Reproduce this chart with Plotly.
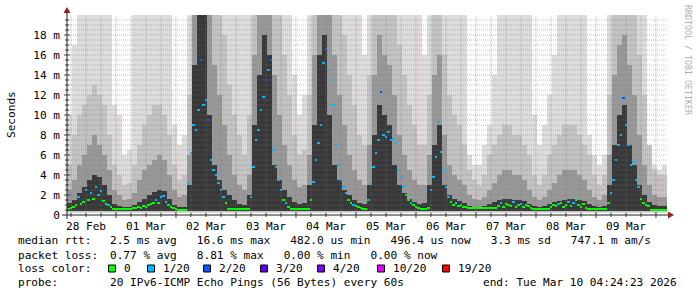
import plotly.graph_objects as go
import pandas as pd

# ---------------- data ----------------
start = pd.Timestamp("2026-02-28 04:24:23")
end = pd.Timestamp("2026-03-10 04:24:23")

day_labels = ["28 Feb", "01 Mar", "02 Mar", "03 Mar", "04 Mar",
              "05 Mar", "06 Mar", "07 Mar", "08 Mar", "09 Mar"]
day_noons = ["2026-02-28 12:00", "2026-03-01 12:00", "2026-03-02 12:00",
             "2026-03-03 12:00", "2026-03-04 12:00", "2026-03-05 12:00",
             "2026-03-06 12:00", "2026-03-07 12:00", "2026-03-08 12:00",
             "2026-03-09 12:00"]

y_tick_vals = [0, 2, 4, 6, 8, 10, 12, 14, 16, 18]
y_tick_text = ["0", "2 m", "4 m", "6 m", "8 m", "10 m", "12 m", "14 m", "16 m", "18 m"]

# hourly median RTT (ms)
median_ms = [
    0.6, 0.7, 0.8,
    1.0, 1.8, 1.1, 1.3,
    2.5, 1.5, 2.2, 1.6, 2.8, 2.0, 2.4, 1.4,
    1.1, 1.0, 0.8,
    0.6, 0.6, 0.6, 0.6, 0.6, 0.6, 0.6, 0.6,
    0.7, 0.7, 0.8, 0.75, 0.9, 0.8,
    1.0, 1.1, 1.2, 1.5, 1.2, 1.8, 1.9, 1.3,
    1.0, 0.8, 0.7, 0.6,
    0.5, 0.5, 0.5, 0.55,
    3.2, 6.2,
    9.0, 8.5, 10.5,
    15.5, 11.0,
    11.5, 9.5,
    5.5, 4.5,
    4.0, 3.2, 2.5,
    1.8, 1.2,
    0.6, 0.6, 0.6, 0.6, 0.6, 0.6, 0.6, 0.6, 0.6,
    1.8, 4.8,
    7.5, 8.5, 10.5,
    11.8, 13.5, 14.5,
    15.5,
    6.5, 4.8, 3.5, 2.5,
    1.5, 1.2, 0.8,
    0.6, 0.6, 0.6, 0.6, 0.6, 0.6, 0.6, 0.6,
    1.5, 3.3, 5.5,
    7.2, 9.0,
    15.2, 16.6, 14.5, 13.5,
    11.0, 7.0, 5.0,
    3.5, 2.8, 2.2, 1.5,
    1.2, 1.0, 0.9, 0.8, 0.7,
    0.6, 0.6,
    1.5, 3.2, 4.8, 6.2, 7.5, 12.3,
    8.0, 7.8, 8.3, 7.5, 7.6, 7.2,
    4.5, 3.8, 2.8, 2.0,
    1.5, 1.2, 1.0, 0.8, 0.7, 0.6, 0.6, 0.6,
    0.7, 2.5, 3.8, 5.8,
    9.3, 6.3,
    4.5, 2.8,
    1.8, 1.3, 1.0, 1.2, 0.9, 1.0, 0.8, 0.8, 0.7,
    0.7, 0.7, 0.7, 0.7, 0.7, 0.7, 0.7, 0.7, 0.7, 0.7, 0.7,
    0.9, 1.2, 0.8, 1.1, 1.0, 0.9, 1.3, 0.8, 1.0, 1.1, 0.8, 1.0, 0.9, 0.7,
    0.6, 0.6, 0.6, 0.6, 0.6, 0.6, 0.6,
    0.8, 1.0, 0.9, 1.1, 1.2, 0.8, 1.0, 1.3, 0.9, 1.2, 1.5, 1.0, 0.8, 1.1, 0.7,
    0.6, 0.6, 0.6, 0.6, 0.6, 0.6, 0.6, 0.6,
    1.2, 2.2,
    3.5, 5.5,
    7.0, 8.0,
    11.7, 9.0,
    7.0, 5.0,
    5.3, 3.5,
    2.8, 1.6,
    1.2, 1.0, 0.9,
    0.55, 0.55, 0.55, 0.55, 0.55, 0.55, 0.55,
]

# hourly packet loss (out of 20)
loss_20 = [
    0, 0, 0,
    0, 1, 0, 0,
    1, 0, 1, 0, 1, 1, 1, 0,
    0, 1, 0,
    0, 0, 0, 0, 0, 0, 0, 0,
    0, 0, 0, 0, 0, 0,
    0, 0, 0, 1, 0, 1, 1, 1,
    0, 0, 0, 0,
    0, 0, 0, 0,
    1, 1,
    1, 1, 1,
    2, 1,
    1, 2,
    1, 1,
    1, 1, 1,
    1, 0,
    0, 0, 0, 0, 0, 0, 0, 0, 0,
    1, 1,
    1, 1, 1,
    1, 2, 1,
    2,
    1, 1, 1, 1,
    0, 1, 0,
    0, 0, 0, 0, 0, 0, 0, 0,
    0, 1, 1,
    1, 1,
    1, 2, 1, 1,
    1, 1, 1,
    1, 1, 1, 0,
    0, 1, 0, 0, 0,
    0, 0,
    1, 1, 1, 1, 1, 2,
    1, 1, 1, 1, 1, 1,
    1, 1, 1, 0,
    0, 1, 0, 0, 0, 0, 0, 0,
    0, 1, 1, 1,
    1, 1,
    1, 1,
    1, 0, 0, 1, 0, 0, 0, 0, 0,
    0, 0, 0, 0, 0, 0, 0, 0, 0, 0, 0,
    0, 1, 0, 0, 0, 0, 1, 0, 0, 1, 0, 0, 0, 0,
    0, 0, 0, 0, 0, 0, 0,
    0, 0, 0, 1, 0, 0, 0, 1, 0, 1, 0, 0, 0, 0, 0,
    0, 0, 0, 0, 0, 0, 0, 0,
    0, 1,
    1, 1,
    1, 1,
    2, 1,
    1, 1,
    1, 1,
    1, 0,
    0, 0, 0,
    0, 0, 0, 0, 0, 0, 0,
]

# smoke envelope (2-hour steps, ms): upper edge of each grey band
smoke_top1 = [10, 17, 20, 20, 20, 20, 20, 20, 20, 11,
              10, 6, 6.5, 20, 20, 20, 20, 20, 20, 20,
              20, 9, 7, 8, 20, 20, 20, 20, 20, 20,
              20, 20, 20, 20, 20, 20, 20, 20, 20, 20,
              20, 20, 20, 20, 20, 14, 10, 12, 20, 20,
              20, 20, 20, 20, 20, 20, 20, 20, 20, 16,
              20, 20, 20, 20, 20, 20, 20, 20, 20, 20,
              20, 16, 20, 20, 20, 20, 20, 20, 20, 20,
              6, 5, 5, 7, 9, 14, 20, 20, 20, 20,
              20, 20, 20, 10, 7, 9, 12, 16, 20, 20,
              20, 20, 20, 20, 8, 6, 5, 6, 20, 20,
              20, 20, 20, 20, 20, 20, 6, 5, 4.5, 5]
smoke_top2 = [5, 8, 10, 11, 12, 13, 12, 11, 8, 5,
              4, 3, 3.2, 5, 7, 9, 10, 11, 11, 10,
              8, 5, 3.5, 4, 12, 20, 20, 20, 20, 20,
              20, 18, 13, 10, 8, 6, 10, 20, 20, 20,
              20, 20, 20, 16, 12, 8, 6, 6.5, 12, 20,
              20, 20, 20, 20, 20, 18, 14, 11, 8, 7,
              14, 20, 20, 20, 20, 20, 17, 14, 11, 9,
              7, 7, 12, 20, 20, 16, 12, 10, 9, 7,
              4.5, 3.5, 3, 4, 6, 7, 8, 9, 9, 8,
              8, 7, 6, 4, 3, 4, 6, 7, 8, 9,
              9, 9, 8, 7, 6, 4, 3, 4, 12, 20,
              20, 20, 20, 20, 16, 12, 7, 4.5, 4, 4]
smoke_top3 = [2.5, 3.5, 5, 6, 7, 8, 7, 6, 4.5, 2.5,
              2, 1.5, 1.6, 2.2, 3.5, 4.5, 5, 5.5, 6, 5.5,
              4, 2.5, 1.8, 2, 6, 20, 20, 20, 20, 15,
              12, 9, 6, 4, 3, 2.5, 4, 16, 20, 20,
              20, 14, 10, 7, 5, 3.5, 2.8, 3, 6, 16,
              20, 20, 20, 16, 12, 9, 6, 4.5, 3.5, 3,
              7, 14, 18, 16, 15, 12, 8, 6, 4.5, 3.5,
              3, 3, 6, 14, 16, 8, 5, 4, 3.5, 3,
              2, 1.6, 1.5, 1.8, 2.5, 3.2, 4, 4.5, 4.5, 4,
              4, 3.5, 2.5, 1.8, 1.5, 1.8, 2.5, 3.2, 4, 4.5,
              4.5, 4.5, 4, 3.5, 2.5, 1.8, 1.5, 2, 6, 14,
              17, 18, 15, 12, 8, 5, 3, 2, 1.8, 1.8]
smoke_top4 = [1.2, 1.5, 2.2, 2.8, 3.5, 4, 3.8, 3, 2, 1.1,
              0.9, 0.8, 0.8, 1.0, 1.3, 1.6, 2, 2.3, 2.5, 2.4,
              1.6, 1.0, 0.8, 0.8, 3, 15, 20, 20, 10, 5,
              3.5, 2.5, 2.0, 1.5, 1.1, 1, 2, 9, 14, 18,
              16, 5, 3.5, 2.5, 1.8, 1.3, 1.1, 1.2, 3, 9,
              16, 18, 10, 5, 3.5, 2.5, 2, 1.5, 1.2, 1.1,
              3, 8, 11, 10, 9, 5, 3, 2.2, 1.6, 1.3,
              1.1, 1.2, 3, 7, 9, 3, 2, 1.6, 1.4, 1.2,
              0.9, 0.8, 0.8, 0.9, 1.1, 1.3, 1.5, 1.6, 1.6, 1.5,
              1.5, 1.4, 1.1, 0.9, 0.8, 0.9, 1.1, 1.3, 1.4, 1.5,
              1.6, 1.6, 1.5, 1.4, 1.1, 0.9, 0.8, 0.9, 3, 7,
              10, 11, 7, 5, 3, 2, 1.3, 1, 0.9, 0.9]
smoke_floor = [0.25, 0.35, 0.4, 0.45]  # lower edge of each grey band (ms)

loss_levels = ["0", "1/20", "2/20", "3/20", "4/20", "10/20", "19/20"]
loss_colors = ["#00ff00", "#00b8ff", "#0059ff", "#5e00ff", "#7e00ff", "#dd00ff", "#ff0000"]

stats_rtt = ["2.5 ms avg", "16.6 ms max", "482.0 us min", "496.4 us now", "3.3 ms sd", "747.1 m am/s"]
stats_loss = ["0.77 % avg", "8.81 % max", "0.00 % min", "0.00 % now"]
probe_text = "20 IPv6-ICMP Echo Pings (56 Bytes) every 60s"
end_text = "end: Tue Mar 10 04:24:23 2026"

# ---------------- layout helpers ----------------
W, H = 697, 297
L, R, T, B = 67, 30, 15, 82
PW, PH = W - L - R, H - T - B
MONO = "DejaVu Sans Mono"


def px(x):
    return (x - L) / PW


def py(y):
    return (T + PH - y) / PH


fig = go.Figure()

# ---------------- smoke ----------------
smoke_x = [start + pd.Timedelta(hours=2 * k + 1) for k in range(len(smoke_top1))]
band_colors = ["#dcdcdc", "#c3c3c3", "#989898", "#383838"]
for tops, floor, col in zip([smoke_top1, smoke_top2, smoke_top3, smoke_top4],
                            smoke_floor, band_colors):
    fig.add_trace(go.Bar(
        x=smoke_x, y=[t - floor for t in tops], base=[floor] * len(tops),
        width=2 * 3600 * 1000, marker=dict(color=col, line=dict(width=0)),
        hoverinfo="skip", showlegend=False))

# ---------------- median ----------------
med_x = [start + pd.Timedelta(minutes=60 * j + 30) for j in range(len(median_ms))]
fig.add_trace(go.Bar(
    x=med_x, y=[0.2] * len(median_ms), base=[m - 0.1 for m in median_ms],
    width=3600 * 1000,
    marker=dict(color=[loss_colors[min(v, 2)] for v in loss_20], line=dict(width=0)),
    hoverinfo="skip", showlegend=False))

shapes = []
# ---------------- grid (above the smoke) ----------------
t = pd.Timestamp("2026-02-28 06:00")
while t < end:
    major = t.hour == 0
    shapes.append(dict(type="line", xref="x", yref="paper", x0=t, x1=t, y0=0, y1=1,
                       line=dict(color="rgba(230,60,60,0.45)" if major else "rgba(120,120,120,0.45)",
                                 width=1, dash="1px,1px"), layer="above"))
    tl = 0.015 if major else 0.01
    shapes.append(dict(type="line", xref="x", yref="paper", x0=t, x1=t, y0=-tl, y1=tl,
                       line=dict(color="#444444", width=1), layer="above"))
    t += pd.Timedelta(hours=6)

for i in range(1, 40):
    v = i * 0.5
    major = (i % 4 == 0)
    shapes.append(dict(type="line", xref="paper", yref="y", x0=0, x1=1, y0=v, y1=v,
                       line=dict(color="rgba(230,60,60,0.45)" if major else "rgba(120,120,120,0.45)",
                                 width=1, dash="1px,1px"), layer="above"))
    tl = 3 / PW if major else 2 / PW
    shapes.append(dict(type="line", xref="paper", yref="y", x0=-tl, x1=tl, y0=v, y1=v,
                       line=dict(color="#444444", width=1), layer="above"))

# axes lines + arrows
shapes.append(dict(type="line", xref="paper", yref="paper", x0=px(62), x1=px(669), y0=0, y1=0,
                   line=dict(color="#222222", width=1), layer="above"))
shapes.append(dict(type="line", xref="paper", yref="paper", x0=0, x1=0, y0=py(219), y1=py(12),
                   line=dict(color="#222222", width=1), layer="above"))
shapes.append(dict(type="path", xref="paper", yref="paper",
                   path=f"M {px(63.5)},{py(13)} L {px(70.5)},{py(13)} L {px(67)},{py(7)} Z",
                   fillcolor="#9b1c1c", line=dict(width=0), layer="above"))
shapes.append(dict(type="path", xref="paper", yref="paper",
                   path=f"M {px(668)},{py(211.5)} L {px(668)},{py(218.5)} L {px(674)},{py(215)} Z",
                   fillcolor="#9b1c1c", line=dict(width=0), layer="above"))

# ---------------- legend texts ----------------
ann = []


def text(x, y, s, anchor="left", size=11.1, color="#000000", angle=0, family=MONO):
    ann.append(dict(x=px(x), y=py(y), xref="paper", yref="paper", text=s, showarrow=False,
                    xanchor=anchor, yanchor="middle", textangle=angle,
                    font=dict(family=family, size=size, color=color)))


y1, y2, y3, y4 = 241, 255, 268.5, 282.5
text(16, y1, "median rtt:")
text(108, y1, "   ".join(stats_rtt).replace(" ", "&nbsp;"))
text(16, y2, "packet loss:")
text(108, y2, "   ".join(stats_loss).replace(" ", "&nbsp;"))
text(16, y3, "loss color:")
sq_x = [108, 147, 203, 260, 317, 377, 442]
for xs, lab, col in zip(sq_x, loss_levels, loss_colors):
    shapes.append(dict(type="rect", xref="paper", yref="paper",
                       x0=px(xs + 0.5), x1=px(xs + 7.5), y0=py(y3 + 3.5), y1=py(y3 - 3.5),
                       fillcolor=col, line=dict(color="#000000", width=1), layer="above"))
    text(xs + 14, y3, lab)
text(16, y4, "probe:")
text(108, y4, probe_text.replace(" ", "&nbsp;"))
text(679, y4, end_text.replace(" ", "&nbsp;"), anchor="right")

text(11, 115, "Seconds", anchor="center", angle=-90, size=11.1)
text(688, 60, "RRDTOOL / TOBI OETIKER", anchor="center", angle=90, size=8.3, color="#b0b0b0")

fig.update_layout(
    width=W, height=H, margin=dict(l=L, r=R, t=T, b=B, pad=0),
    paper_bgcolor="#ffffff", plot_bgcolor="#ffffff",
    barmode="overlay", bargap=0, showlegend=False,
    shapes=shapes, annotations=ann,
    xaxis=dict(type="date", range=[start, end], showgrid=False, zeroline=False, showline=False,
               tickmode="array", tickvals=day_noons, ticktext=day_labels, ticks="",
               ticklabelstandoff=3,
               tickfont=dict(family=MONO, size=11.1, color="#000000"), fixedrange=True),
    yaxis=dict(range=[0, 20], showgrid=False, zeroline=False, showline=False,
               tickmode="array", tickvals=y_tick_vals, ticktext=y_tick_text, ticks="",
               ticklabelstandoff=6,
               tickfont=dict(family=MONO, size=11.1, color="#000000"), fixedrange=True),
)

fig.write_html("out.html")
